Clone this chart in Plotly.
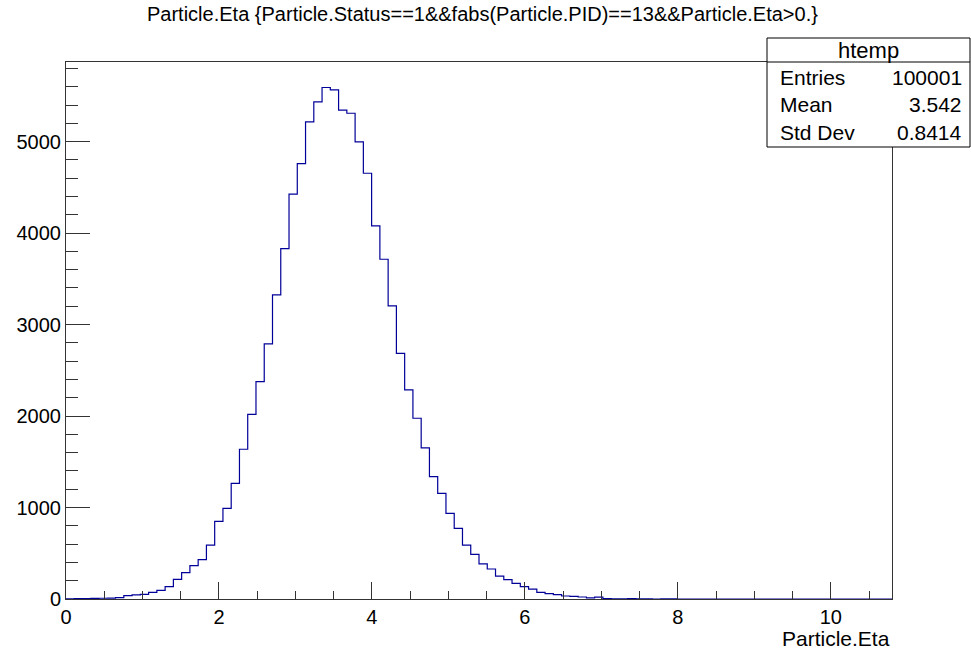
import numpy as np
import plotly.graph_objects as go

# ---- data ----
x_min, x_max, n_bins = 0.0, 10.8, 100
counts = [3, 4, 5, 6, 8, 10, 16, 36, 44, 51,
          73, 95, 135, 215, 288, 364, 430, 588, 848, 990,
          1265, 1637, 2019, 2376, 2788, 3324, 3830, 4425, 4760, 5215,
          5434, 5591, 5565, 5343, 5310, 4997, 4654, 4078, 3714, 3204,
          2686, 2285, 1976, 1651, 1337, 1155, 936, 773, 590, 488,
          383, 328, 251, 211, 171, 135, 109, 73, 58, 47,
          33, 29, 22, 12, 20, 4, 3, 3, 4, 2,
          3, 0, 3, 2, 0, 0, 0, 0, 0, 0,
          0, 0, 0, 0, 0, 0, 0, 0, 0, 0,
          0, 0, 0, 0, 0, 0, 0, 0, 0, 0]
title_text = "Particle.Eta {Particle.Status==1&&fabs(Particle.PID)==13&&Particle.Eta>0.}"
x_title = "Particle.Eta"
stats_name = "htemp"
stats_labels = ["Entries", "Mean", "Std Dev"]
stats_values = ["100001", "3.542", "0.8414"]
x_tickvals = [0, 2, 4, 6, 8, 10]
y_tickvals = [0, 1000, 2000, 3000, 4000, 5000]
y_max = 5870

edges = np.linspace(x_min, x_max, n_bins + 1)
xs = list(edges)
ys = list(counts) + [counts[-1]]

FONT = "Liberation Sans, Arial, sans-serif"

fig = go.Figure()
fig.add_trace(go.Scatter(x=xs, y=ys, mode="lines", line_shape="hv",
                         line=dict(color="#000099", width=1.2),
                         hoverinfo="skip", showlegend=False))

fig.update_layout(
    width=971, height=650,
    margin=dict(l=66, r=79, t=62, b=51),
    paper_bgcolor="white", plot_bgcolor="white",
    font=dict(family=FONT, color="black"),
    showlegend=False,
)
fig.update_xaxes(range=[x_min, x_max], showgrid=False, zeroline=False,
                 showline=True, mirror=True, linecolor="#333333", linewidth=1,
                 ticks="inside", ticklen=17, tickwidth=1, tickcolor="#333333",
                 tickvals=x_tickvals, ticktext=[str(v) for v in x_tickvals],
                 tickfont=dict(size=20, family=FONT),
                 minor=dict(ticks="inside", ticklen=8, dtick=0.5, tick0=0,
                            tickcolor="#333333", showgrid=False))
fig.update_yaxes(range=[0, y_max], showgrid=False, zeroline=False,
                 showline=True, mirror=True, linecolor="#333333", linewidth=1,
                 ticks="inside", ticklen=24, tickwidth=1, tickcolor="#333333",
                 tickvals=y_tickvals, ticktext=[str(v) for v in y_tickvals],
                 tickfont=dict(size=20, family=FONT),
                 minor=dict(ticks="inside", ticklen=12, dtick=200, tick0=0,
                            tickcolor="#333333", showgrid=False))

px = lambda p: (p - 66) / 826
py = lambda p: (599 - p) / 537

# title
fig.add_annotation(text=title_text, xref="paper", yref="paper",
                   x=px(482), y=py(14), xanchor="center", yanchor="middle",
                   showarrow=False, font=dict(size=20, family=FONT))
# x-axis title
fig.add_annotation(text=x_title, xref="paper", yref="paper",
                   x=px(892), y=py(638), xanchor="right", yanchor="middle",
                   showarrow=False, font=dict(size=21, family=FONT))

# stats box
bx0, bx1, by0, by1, bline = px(767), px(970), py(147), py(38), py(62)
fig.add_shape(type="rect", xref="paper", yref="paper", x0=bx0, x1=bx1, y0=by0, y1=by1,
              line=dict(color="black", width=1), fillcolor="white", layer="above")
fig.add_shape(type="line", xref="paper", yref="paper", x0=bx0, x1=bx1, y0=bline, y1=bline,
              line=dict(color="black", width=1), layer="above")
fig.add_annotation(text=stats_name, xref="paper", yref="paper", x=(bx0 + bx1) / 2, y=py(50),
                   xanchor="center", yanchor="middle", showarrow=False, font=dict(size=22, family=FONT))
row_y = [78, 105, 132]
for lab, val, ry in zip(stats_labels, stats_values, row_y):
    fig.add_annotation(text=lab, xref="paper", yref="paper", x=px(778), y=py(ry),
                       xanchor="left", yanchor="middle", showarrow=False, font=dict(size=21, family=FONT))
    fig.add_annotation(text=val, xref="paper", yref="paper", x=px(964), y=py(ry),
                       xanchor="right", yanchor="middle", showarrow=False, font=dict(size=21, family=FONT))

fig.write_html("out.html", config={"displayModeBar": False},
               post_script="document.body.style.margin='0';document.body.style.overflow='hidden';")
